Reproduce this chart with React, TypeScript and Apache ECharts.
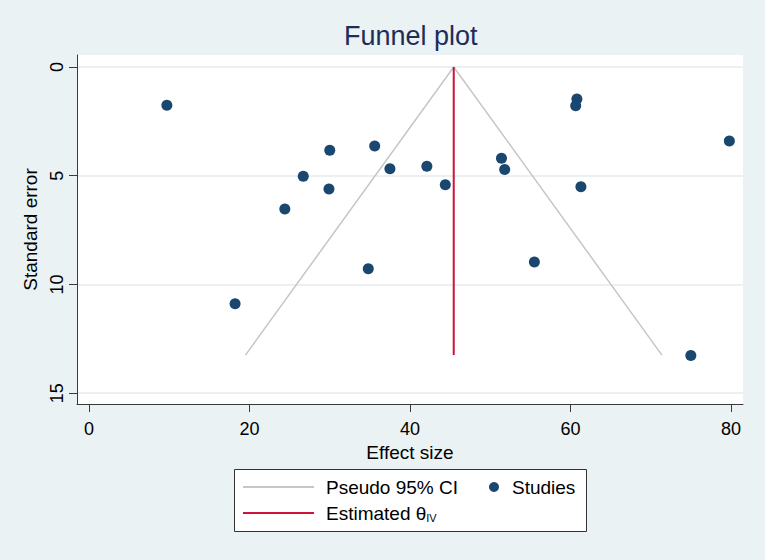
import React, { useEffect, useRef } from "react";
import * as echarts from "echarts";

// Studies: effect size (x) and standard error (y)
const studyEffect = [9.7, 30.0, 35.6, 37.5, 42.1, 44.4, 51.4, 51.8, 26.7, 29.9, 24.4, 34.8, 55.5, 18.2, 60.8, 60.65, 79.8, 61.3, 75.0];
const studySE = [1.76, 3.83, 3.64, 4.68, 4.57, 5.42, 4.2, 4.72, 5.03, 5.61, 6.53, 9.28, 8.97, 10.89, 1.47, 1.78, 3.41, 5.51, 13.27];

// Pseudo 95% CI funnel
const ciEffect = [19.5, 45.45, 71.4];
const ciSE = [13.25, 0, 13.25];

// Estimated theta (IV)
const thetaEffect = [45.45, 45.45];
const thetaSE = [0, 13.25];

const xTicks = [0, 20, 40, 60, 80];
const yTicks = [0, 5, 10, 15];

const FONT = "'Liberation Sans', Arial, Helvetica, sans-serif";

export default function App() {
  const ref = useRef<HTMLDivElement>(null);

  useEffect(() => {
    document.body.style.margin = "0";
    const chart = echarts.init(ref.current!, undefined, { renderer: "svg" });
    const axisColor = "#3a3a3a";
    const option: any = {
      animation: false,
      backgroundColor: "#eaf2f3",
      textStyle: { fontFamily: FONT },
      title: {
        text: "Funnel plot",
        left: 344,
        top: 22,
        padding: 0,
        textStyle: { fontFamily: FONT, fontSize: 27, fontWeight: "normal", color: "#1e2d58" },
      },
      grid: {
        left: 77,
        top: 55,
        width: 666,
        height: 349,
        show: true,
        backgroundColor: "#ffffff",
        borderWidth: 0,
        containLabel: false,
      },
      xAxis: {
        type: "value",
        min: -1.5,
        max: 81.5,
        name: "Effect size",
        nameLocation: "middle",
        nameGap: 33,
        nameTextStyle: { fontFamily: FONT, fontSize: 19, color: "#000", lineHeight: 20 },
        axisLine: { show: true, onZero: false, lineStyle: { color: axisColor, width: 1 } },
        axisTick: { show: true, length: 8, customValues: xTicks, lineStyle: { color: axisColor, width: 1 } },
        axisLabel: { customValues: xTicks, margin: 16, fontFamily: FONT, fontSize: 18, color: "#000", lineHeight: 18 },
        splitLine: { show: false },
      },
      yAxis: {
        type: "value",
        inverse: true,
        min: -0.55,
        max: 15.5,
        name: "Standard error",
        nameLocation: "middle",
        nameRotate: 90,
        nameGap: 31,
        nameTextStyle: { fontFamily: FONT, fontSize: 19, color: "#000", lineHeight: 20 },
        axisLine: { show: true, onZero: false, lineStyle: { color: axisColor, width: 1 } },
        axisTick: { show: true, length: 8, customValues: yTicks, lineStyle: { color: axisColor, width: 1 } },
        axisLabel: { customValues: yTicks, rotate: 90, margin: 11, fontFamily: FONT, fontSize: 18, color: "#000", lineHeight: 18 },
        splitLine: { show: true, lineStyle: { color: "#e4ecee", width: 1.5 } },
      },
      legend: [
        {
          data: [{ name: "Pseudo 95% CI", icon: "rect" }],
          left: 243,
          top: 477,
          padding: 0,
          itemWidth: 71,
          itemHeight: 2,
          selectedMode: false,
          textStyle: { fontFamily: FONT, fontSize: 19, color: "#000", lineHeight: 20, padding: [0, 0, 0, 7] },
        },
        {
          data: ["Studies"],
          left: 489,
          top: 477,
          padding: 0,
          itemWidth: 10,
          itemHeight: 10,
          selectedMode: false,
          textStyle: { fontFamily: FONT, fontSize: 19, color: "#000", lineHeight: 20, padding: [0, 0, 0, 8] },
        },
        {
          data: [{ name: "Estimated θIV", icon: "rect" }],
          left: 243,
          top: 503,
          padding: 0,
          itemWidth: 71,
          itemHeight: 2,
          selectedMode: false,
          formatter: () => "Estimated θ{sub|IV}",
          textStyle: {
            fontFamily: FONT,
            fontSize: 19,
            color: "#000",
            lineHeight: 20,
            padding: [0, 0, 0, 7],
            rich: { sub: { fontFamily: FONT, fontSize: 11, color: "#000", verticalAlign: "bottom", lineHeight: 14 } },
          },
        },
      ],
      graphic: [
        {
          type: "rect",
          left: 234,
          top: 469,
          z: -1,
          shape: { width: 352, height: 62 },
          style: { fill: "#ffffff", stroke: "#333333", lineWidth: 1 },
        },
      ],
      series: [
        {
          name: "Pseudo 95% CI",
          type: "line",
          data: ciEffect.map((x, i) => [x, ciSE[i]]),
          symbol: "none",
          itemStyle: { color: "#c6c6c6" },
          lineStyle: { color: "#c6c6c6", width: 1.5 },
          z: 2,
        },
        {
          name: "Estimated θIV",
          type: "line",
          data: thetaEffect.map((x, i) => [x, thetaSE[i]]),
          symbol: "none",
          itemStyle: { color: "#cf1239" },
          lineStyle: { color: "#cf1239", width: 2 },
          z: 3,
        },
        {
          name: "Studies",
          type: "scatter",
          data: studyEffect.map((x, i) => [x, studySE[i]]),
          symbol: "circle",
          symbolSize: 11,
          itemStyle: { color: "#1a476f", opacity: 1 },
          z: 4,
        },
      ],
    };
    chart.setOption(option);
    return () => chart.dispose();
  }, []);

  return <div ref={ref} style={{ width: 765, height: 560, position: "absolute", left: 0, top: 0 }} />;
}
